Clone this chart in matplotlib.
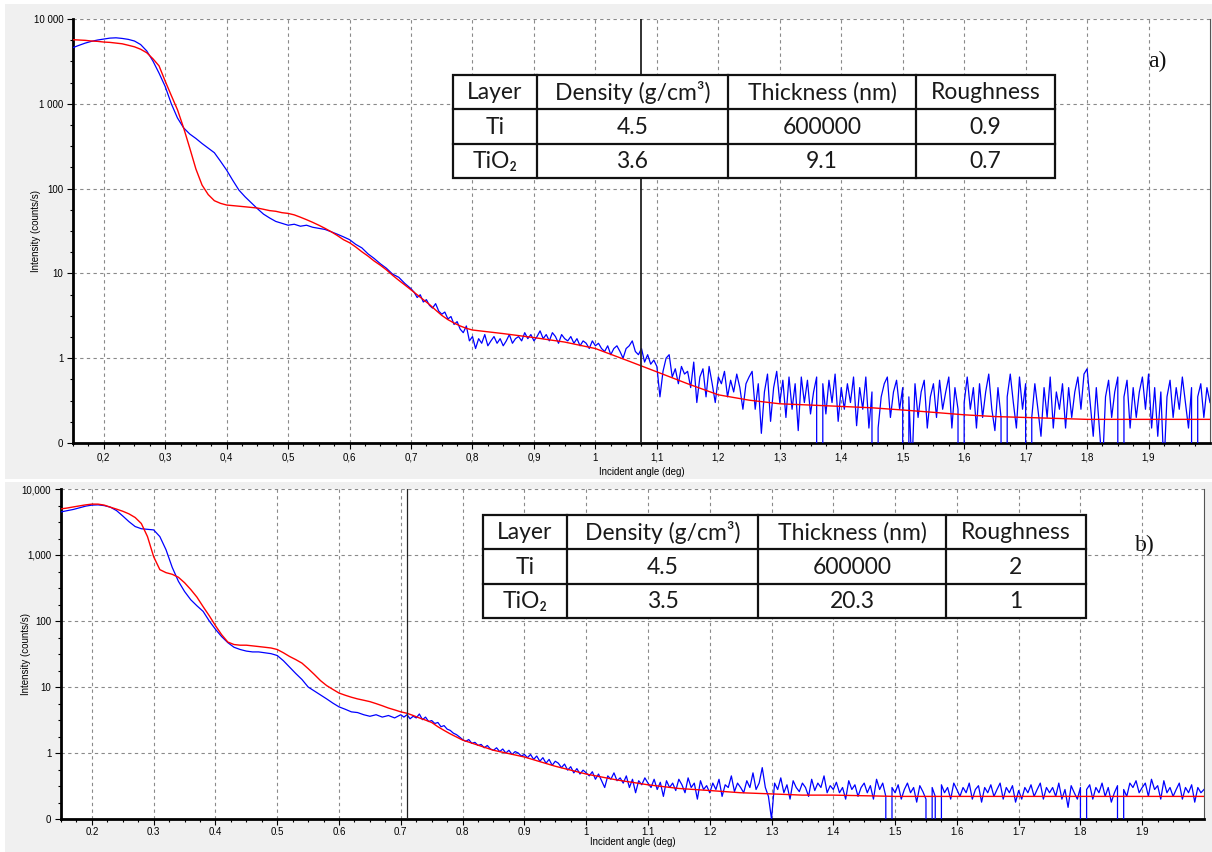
import numpy as np
import matplotlib.pyplot as plt
from matplotlib.patches import Rectangle
from matplotlib.ticker import FixedLocator, NullFormatter

# ---------------- data ----------------
# top panel (a): measured curve, smooth part 0.15..0.70 step 0.01
a_blue_smooth = [4600, 4900, 5200, 5450, 5650, 5800, 5950, 6000, 5900, 5750,
                 5500, 5000, 4200, 3200, 2300, 1600, 1000, 680, 520, 440,
                 390, 340, 300, 265, 210, 165, 125, 96, 80, 68,
                 58, 50, 45, 41, 39, 37, 38, 36, 37, 35,
                 34, 33, 31, 29, 27, 25, 22, 20, 17, 15,
                 13, 11.5, 9.8, 9.0, 7.6, 6.6]
# top panel measured curve, noisy part 0.705..2.0 step 0.005
a_blue_noisy = [6.0, 5.2, 5.6, 4.6, 4.9, 4.2, 3.9, 4.4, 3.6, 3.3,
                3.5, 2.9, 3.1, 2.5, 2.7, 2.2, 2.0, 2.4, 1.6, 1.8,
                1.3, 1.7, 1.5, 1.9, 1.4, 1.6, 1.8, 1.5, 1.7, 1.4,
                1.6, 1.9, 1.5, 1.7, 1.8, 1.6, 2.0, 1.7, 1.9, 1.6,
                1.8, 2.1, 1.7, 1.9, 1.6, 2.0, 1.8, 1.5, 1.9, 1.7,
                1.6, 1.8, 1.5, 1.7, 1.4, 1.6, 1.5, 1.3, 1.6, 1.4,
                1.5, 1.3, 1.2, 1.4, 1.1, 1.3, 1.4, 1.2, 1.0, 1.3,
                1.4, 1.6, 1.2, 1.1, 1.3, 0.9, 1.1, 0.85, 0.95, 0.8,
                0.35, 0.7, 1.0, 1.1, 0.6, 0.75, 0.5, 0.8, 0.65, 0.7,
                0.45, 0.9, 0.3, 0.6, 0.75, 0.35, 0.8, 0.5, 0.3, 0.6,
                0.5, 0.7, 0.35, 0.55, 0.4, 0.65, 0.45, 0.25, 0.5, 0.6,
                0.7, 0.25, 0.5, 0.13, 0.4, 0.65, 0.18, 0.45, 0.7, 0.3,
                0.55, 0.2, 0.6, 0.25, 0.5, 0.14, 0.6, 0.3, 0.55, 0.22,
                0.4, 0.6, 0, 0.5, 0.22, 0.55, 0.3, 0.65, 0.18, 0.45,
                0.25, 0.5, 0.3, 0.6, 0.16, 0.45, 0.25, 0.6, 0.15, 0.4,
                0, 0.15, 0.35, 0.5, 0.6, 0.2, 0.4, 0.55, 0.25, 0.45,
                0, 0.35, 0.05, 0.5, 0.2, 0.4, 0.55, 0.15, 0.35, 0.5,
                0.2, 0.55, 0.25, 0.4, 0.6, 0.15, 0.45, 0.25, 0, 0.3,
                0.6, 0.25, 0.45, 0.15, 0.5, 0.2, 0.4, 0.65, 0.25, 0.14,
                0.45, 0.2, 0, 0.35, 0.65, 0.3, 0.15, 0.6, 0.25, 0.5,
                0, 0.2, 0.5, 0.25, 0.12, 0.45, 0.2, 0.6, 0.15, 0.4,
                0.25, 0.5, 0.15, 0.45, 0.2, 0.4, 0.6, 0.25, 0.65, 0.75,
                0.3, 0.12, 0.45, 0.15, 0.05, 0.35, 0.55, 0.2, 0.4, 0.6,
                0, 0.35, 0.55, 0.15, 0.45, 0.2, 0.4, 0.6, 0.25, 0.65,
                0.15, 0.45, 0.12, 0.4, 0.05, 0.35, 0.55, 0.2, 0.45, 0.25,
                0.6, 0.3, 0.15, 0.45, 0, 0.35, 0.5, 0.2, 0.45, 0.3]
# top panel fit, 0.15..0.80 step 0.01 then 0.85..2.0 step 0.05
a_red_fine = [5700, 5650, 5600, 5500, 5450, 5350, 5300, 5200, 5100, 4900,
              4700, 4400, 4000, 3400, 2800, 1850, 1250, 850, 520, 300,
              170, 110, 85, 72, 67,
              64, 63, 62, 61, 60, 59, 57, 55, 54, 52,
              51, 49, 46, 43, 40, 37, 34, 31, 28, 25,
              23, 20.5, 18, 16, 14, 12.5, 11, 9.5, 8.3, 7.3,
              6.4, 5.6, 4.9, 4.3, 3.7, 3.2, 2.85, 2.6, 2.4, 2.25, 2.15]
a_red_coarse = [1.95, 1.75, 1.55, 1.3, 0.95, 0.69, 0.5, 0.37, 0.32, 0.29,
                0.28, 0.27, 0.26, 0.245, 0.23, 0.215, 0.205, 0.2, 0.195, 0.19,
                0.19, 0.19, 0.19, 0.19]

# bottom panel (b)
b_blue_smooth = [4500, 4700, 4900, 5200, 5500, 5700, 5750, 5600, 5300, 4700,
                 3900, 3200, 2700, 2500, 2450, 2400, 1900, 1200, 650, 400,
                 280, 210, 170, 140, 100, 75, 58, 47, 40, 37,
                 35, 34, 34, 33, 32, 30, 25, 20, 16, 13,
                 10, 8.7, 7.6, 6.6, 5.7, 5.0, 4.6, 4.2, 4.1, 3.8,
                 3.6, 3.8, 3.5, 3.7, 3.4, 3.8]
b_blue_noisy = [3.5, 3.8, 3.3, 3.6, 3.4, 3.9, 3.2, 3.5, 3.0, 3.1,
                2.8, 2.9, 2.5, 2.6, 2.3, 2.2, 2.0, 1.9, 1.75, 1.6,
                1.5, 1.6, 1.4, 1.45, 1.3, 1.35, 1.2, 1.3, 1.15, 1.1,
                1.2, 1.05, 1.15, 1.0, 1.1, 0.95, 1.05, 1.0, 0.9, 0.95,
                0.85, 0.95, 0.8, 0.9, 0.75, 0.85, 0.7, 0.8, 0.65, 0.75,
                0.7, 0.6, 0.68, 0.55, 0.62, 0.5, 0.58, 0.48, 0.55, 0.5,
                0.45, 0.52, 0.4, 0.48, 0.38, 0.3, 0.45, 0.4, 0.5, 0.38,
                0.42, 0.35, 0.45, 0.3, 0.4, 0.25, 0.38, 0.33, 0.42, 0.35,
                0.3, 0.4, 0.28, 0.36, 0.22, 0.38, 0.3, 0.35, 0.27, 0.4,
                0.33, 0.25, 0.42, 0.3, 0.35, 0.2, 0.38, 0.28, 0.32, 0.25,
                0.35, 0.28, 0.4, 0.22, 0.33, 0.3, 0.45, 0.26, 0.35, 0.3,
                0.25, 0.38, 0.3, 0.5, 0.28, 0.35, 0.6, 0.3, 0.22, 0.1,
                0.35, 0.28, 0.42, 0.25, 0.33, 0.2, 0.38, 0.3, 0.26, 0.35,
                0.3, 0.22, 0.4, 0.27, 0.35, 0.3, 0.45, 0.25, 0.32, 0.28,
                0.36, 0.25, 0.3, 0.2, 0.38, 0.28, 0.33, 0.22, 0.3, 0.35,
                0.25, 0.32, 0.2, 0.4, 0.28, 0.35, 0.22, 0, 0.3, 0.25,
                0.33, 0.2, 0.28, 0.35, 0.25, 0.3, 0.18, 0.32, 0.26, 0.2,
                0, 0.3, 0.22, 0, 0.33, 0.25, 0.3, 0.2, 0.35, 0.28,
                0.22, 0.3, 0.25, 0.35, 0.2, 0.28, 0.32, 0.18, 0.3, 0.25,
                0.33, 0.22, 0.28, 0.35, 0.2, 0.3, 0.25, 0.32, 0.18, 0.27,
                0.2, 0.3, 0.25, 0.33, 0.22, 0.28, 0.35, 0.2, 0.3, 0.25,
                0.3, 0.22, 0.35, 0.2, 0.28, 0.15, 0.32, 0.25, 0.2, 0.3,
                0, 0.28, 0.33, 0.2, 0.3, 0.25, 0.35, 0.22, 0.3, 0.18,
                0.25, 0.32, 0, 0.28, 0.22, 0.35, 0.3, 0.38, 0.25, 0.3,
                0.35, 0.22, 0.4, 0.28, 0.32, 0.2, 0.38, 0.25, 0.3, 0.22,
                0.28, 0.35, 0.2, 0.3, 0.25, 0.33, 0.18, 0.3, 0.25, 0.28]
b_red_fine = [5000, 5150, 5350, 5550, 5750, 5900, 5900, 5700, 5300, 4950,
              4600, 4200, 3700, 3000, 1900, 940, 600, 540, 510, 460,
              380, 300, 230, 165, 120, 85, 62, 48, 44, 43,
              43, 42, 41, 40, 39, 37, 33, 29, 26, 23,
              19, 15.5, 12.5, 10.5, 9.2, 8.1, 7.5, 7.0, 6.6, 6.3,
              6.0, 5.6, 5.2, 4.8, 4.5, 4.2, 4.0, 3.7, 3.4, 3.15,
              2.9, 2.5, 2.2, 1.95, 1.75, 1.57]
b_red_coarse = [1.1, 0.87, 0.63, 0.48, 0.39, 0.33, 0.29, 0.27, 0.25, 0.24,
                0.23, 0.23, 0.225, 0.22, 0.22, 0.22, 0.22, 0.22, 0.22, 0.22,
                0.22, 0.22, 0.22, 0.22]

a_marker = 1.074
b_marker = 0.71

table_header = ["Layer", "Density (g/cm³)", "Thickness (nm)", "Roughness"]
a_rows = [["Ti", "4.5", "600000", "0.9"], ["TiO₂", "3.6", "9.1", "0.7"]]
b_rows = [["Ti", "4.5", "600000", "2"], ["TiO₂", "3.5", "20.3", "1"]]

x_major = [0.2, 0.3, 0.4, 0.5, 0.6, 0.7, 0.8, 0.9, 1.0,
           1.1, 1.2, 1.3, 1.4, 1.5, 1.6, 1.7, 1.8, 1.9]
x_labels_b = ["0.2", "0.3", "0.4", "0.5", "0.6", "0.7", "0.8", "0.9", "1",
              "1.1", "1.2", "1.3", "1.4", "1.5", "1.6", "1.7", "1.8", "1.9"]
x_labels_a = [s.replace(".", ",") for s in x_labels_b]
y_major = [0.1, 1, 10, 100, 1000, 10000]
y_labels_a = ["0", "1", "10", "100", "1 000", "10 000"]
y_labels_b = ["0", "1", "10", "100", "1,000", "10,000"]


def xs(start, step, n):
    return np.round(start + step * np.arange(n), 4)


W, H = 1212, 852
fig = plt.figure(figsize=(W / 100, H / 100), dpi=100)
fig.patch.set_facecolor("white")

# grey window backgrounds
fig.add_artist(Rectangle((5 / W, 1 - 479 / H), (W - 5) / W, 475 / H,
                         transform=fig.transFigure, facecolor="#f0f0f0",
                         edgecolor="none", zorder=-5))
fig.add_artist(Rectangle((5 / W, 0), (W - 5) / W, 1 - 482 / H,
                         transform=fig.transFigure, facecolor="#f0f0f0",
                         edgecolor="none", zorder=-5))


def px_axes(l, t, r, b):
    return fig.add_axes([l / W, 1 - b / H, (r - l) / W, (b - t) / H])


def panel(ax, blue_s, blue_n, red_f, red_c, marker, xlab, ylab, vlw, xpad, lpad):
    bx = np.concatenate([xs(0.15, 0.01, len(blue_s)), xs(0.705, 0.005, len(blue_n))])
    by = np.array(list(blue_s) + list(blue_n), dtype=float)
    rx = np.concatenate([xs(0.15, 0.01, len(red_f)), xs(0.85, 0.05, len(red_c))])
    ry = np.array(list(red_f) + list(red_c), dtype=float)

    ax.set_yscale("log", nonpositive="clip")
    ax.plot(bx, by, color="#0000ff", lw=0.9, zorder=3)
    ax.plot(rx, ry, color="#ff0000", lw=1.0, zorder=4)
    ax.axvline(marker, color="#222222", lw=vlw, zorder=5)

    ax.set_xlim(0.15, 2.0)
    ax.set_ylim(0.1, 10000)
    ax.xaxis.set_major_locator(FixedLocator(x_major))
    ax.set_xticklabels(xlab)
    ax.xaxis.set_minor_locator(FixedLocator(np.arange(0.15, 2.0, 0.025)))
    ax.yaxis.set_major_locator(FixedLocator(y_major))
    ax.set_yticklabels(ylab)
    ym = [10 ** (k + f) for k in range(-1, 4) for f in (0.25, 0.5, 0.75)]
    ax.yaxis.set_minor_locator(FixedLocator(ym))
    ax.yaxis.set_minor_formatter(NullFormatter())

    ax.grid(which="major", color="#8a8a8a", ls=(0, (3, 3)), lw=0.8, zorder=1)
    ax.set_axisbelow(True)
    ax.spines["top"].set_visible(False)
    ax.spines["right"].set_color("#555555")
    ax.spines["right"].set_linewidth(0.8)
    ax.spines["left"].set_linewidth(2)
    ax.spines["bottom"].set_linewidth(2)
    ax.tick_params(which="major", length=4, width=0.8, labelsize=7, pad=3)
    ax.tick_params(axis="x", which="major", pad=xpad)
    ax.tick_params(which="minor", length=2.5, width=0.8)
    ax.tick_params(axis="x", which="both", top=False)
    ax.tick_params(axis="y", which="both", right=False)
    for lab in ax.get_xticklabels() + ax.get_yticklabels():
        lab.set_fontfamily("Liberation Sans")
    ax.set_xlabel("Incident angle (deg)", fontsize=7, family="Liberation Sans",
                  labelpad=lpad)
    ax.set_ylabel("Intensity (counts/s)", fontsize=7, family="Liberation Sans")


ax_a = px_axes(73, 19, 1210, 443)
panel(ax_a, a_blue_smooth, a_blue_noisy, a_red_fine, a_red_coarse, a_marker,
      x_labels_a, y_labels_a, 1.3, 3, 3)
ax_a.yaxis.set_label_coords(-0.028, 0.5)

ax_b = px_axes(61, 489, 1204, 819)
panel(ax_b, b_blue_smooth, b_blue_noisy, b_red_fine, b_red_coarse, b_marker,
      x_labels_b, y_labels_b, 0.9, 1.5, 0)
ax_b.yaxis.set_label_coords(-0.026, 0.5)

# overlay for tables and panel letters
ov = fig.add_axes([0, 0, 1, 1], zorder=10)
ov.set_xlim(0, W)
ov.set_ylim(H, 0)
ov.axis("off")
ov.patch.set_alpha(0)


def draw_table(x0, y0, col_w, row_h, rows):
    tw = sum(col_w)
    th = row_h * len(rows)
    ov.add_patch(Rectangle((x0, y0), tw, th, facecolor="white",
                           edgecolor="#111111", lw=1.6))
    edges = np.cumsum([x0] + col_w)
    for e in edges[1:-1]:
        ov.plot([e, e], [y0, y0 + th], color="#111111", lw=1.6)
    for i in range(1, len(rows)):
        ov.plot([x0, x0 + tw], [y0 + i * row_h] * 2, color="#111111", lw=1.6)
    for i, row in enumerate(rows):
        for j, cell in enumerate(row):
            ov.text((edges[j] + edges[j + 1]) / 2, y0 + (i + 0.52) * row_h, cell,
                    ha="center", va="center", fontsize=16.5, color="#1a1a1a",
                    family=["Lato", "DejaVu Sans"])


draw_table(453, 75, [84, 191, 188, 139], 34.3, [table_header] + a_rows)
draw_table(483, 515, [84, 191, 188, 140], 34.3, [table_header] + b_rows)

ov.text(1157, 61, "a)", ha="center", va="center", fontsize=17,
        family="Liberation Serif", color="#111111")
ov.text(1145, 545, "b)", ha="center", va="center", fontsize=17,
        family="Liberation Serif", color="#111111")

fig.savefig("out.png", dpi=100)
